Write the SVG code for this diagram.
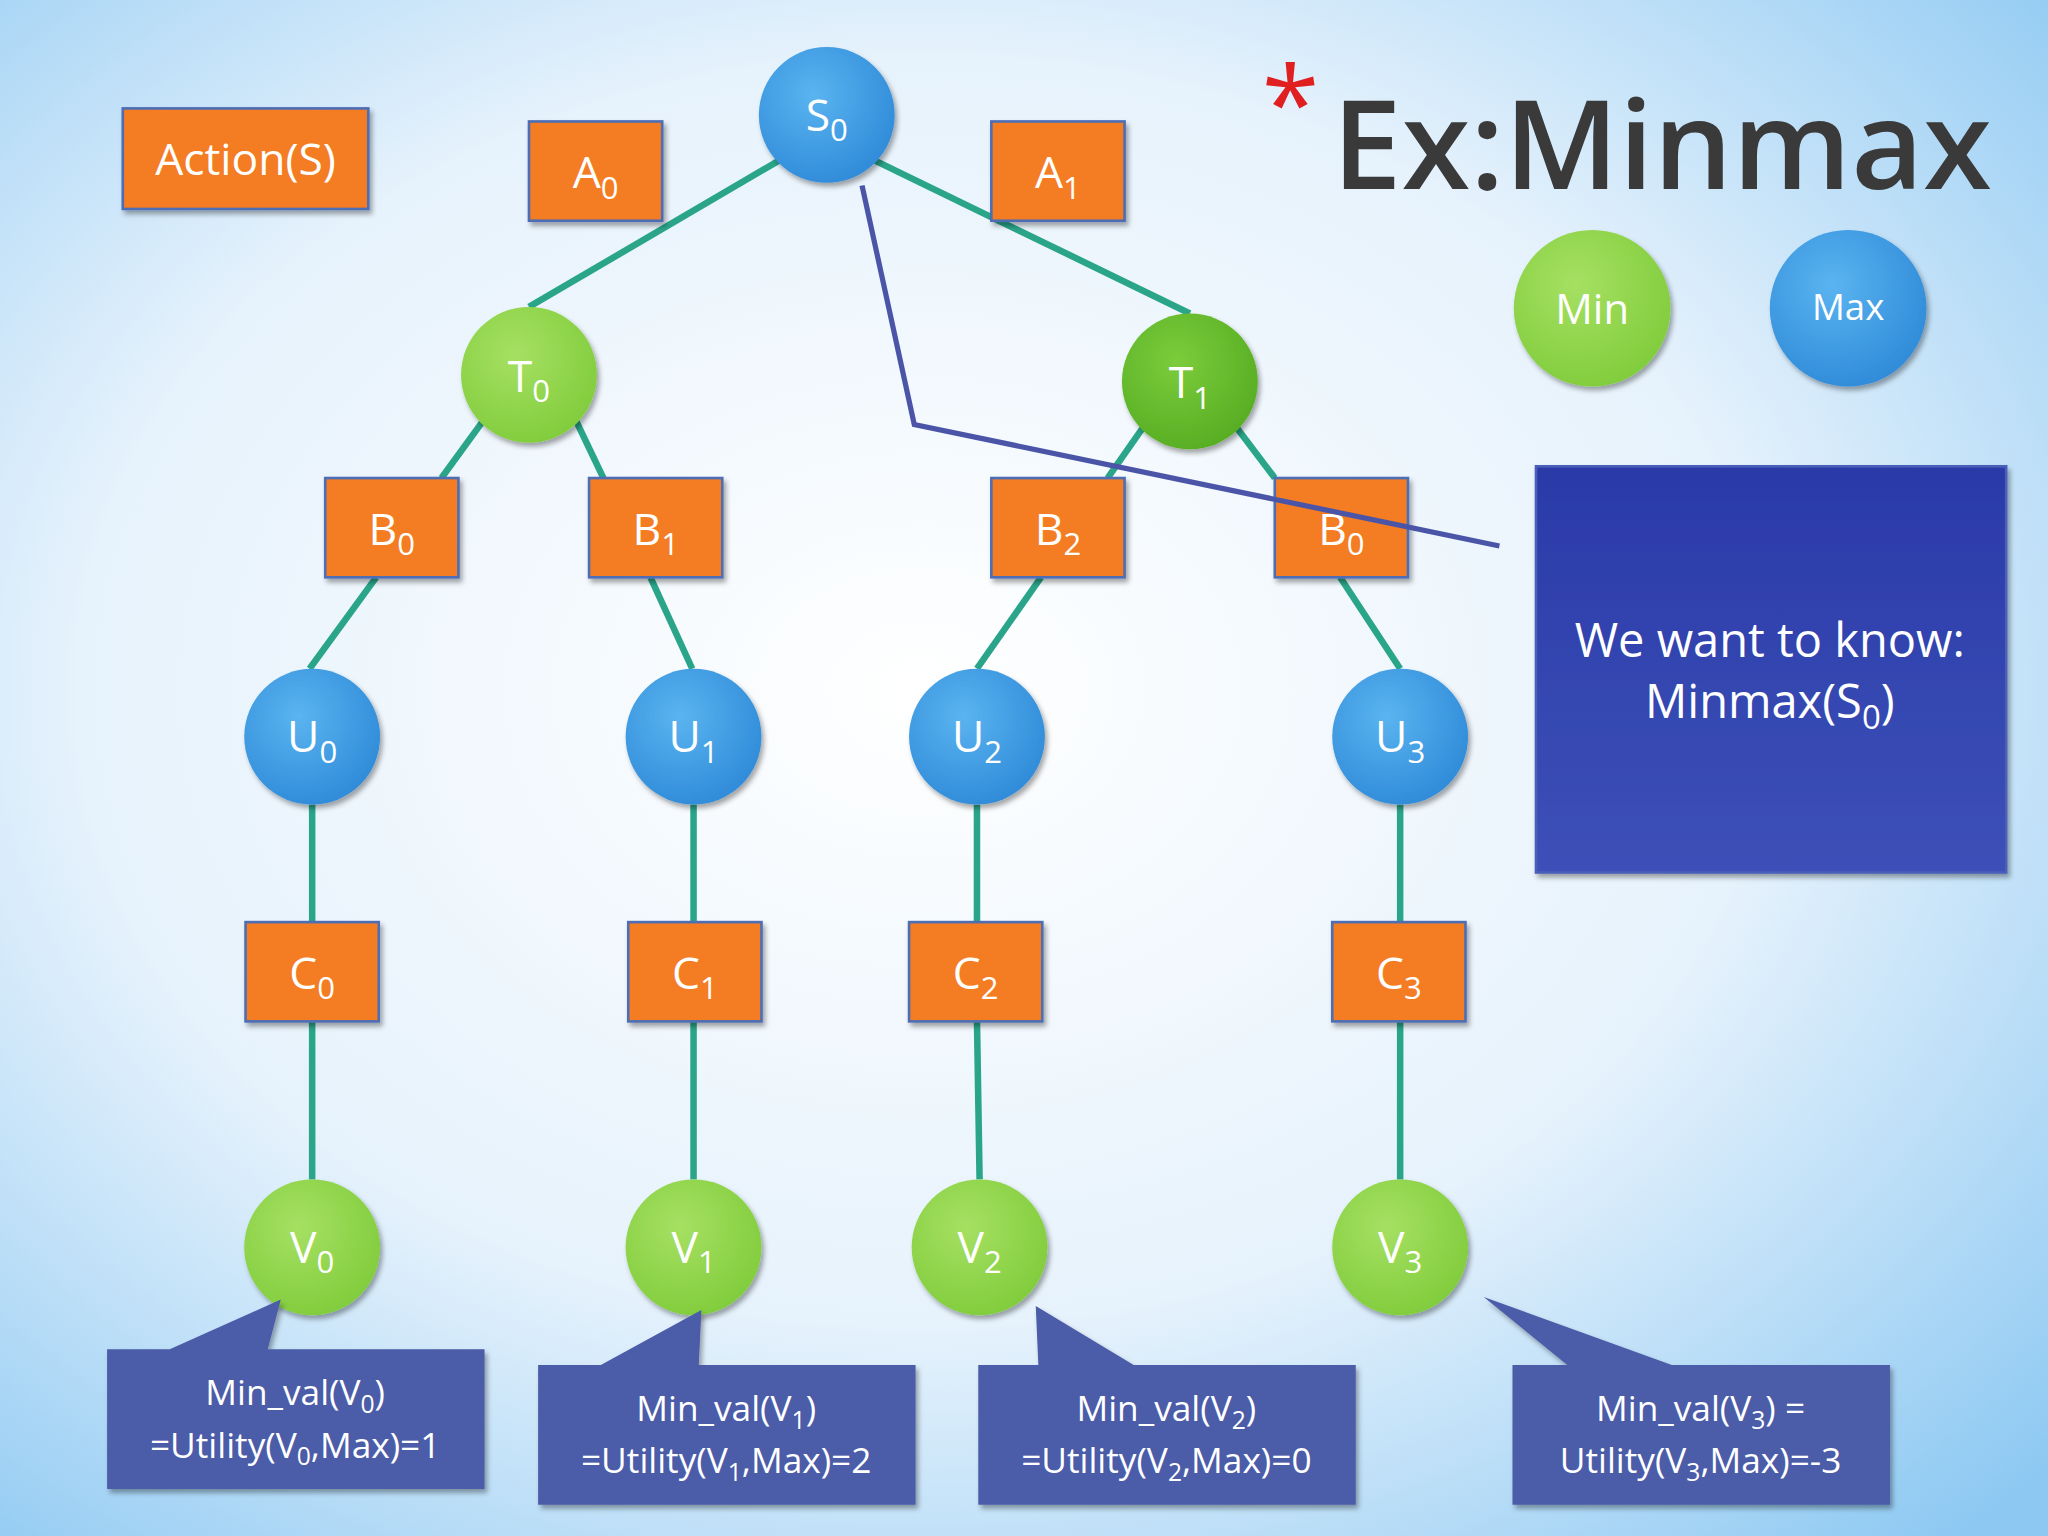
<svg xmlns="http://www.w3.org/2000/svg" width="2048" height="1536" viewBox="0 0 2048 1536">
<defs>
<radialGradient id="bg" cx="0.45" cy="0.45" r="0.75">
<stop offset="0" stop-color="#ffffff"/><stop offset="0.55" stop-color="#e6f2fc"/><stop offset="1" stop-color="#8cc8f2"/>
</radialGradient>
<radialGradient id="gb" cx="0.4" cy="0.35" r="0.7"><stop offset="0" stop-color="#5ab4f0"/><stop offset="1" stop-color="#2f8ad8"/></radialGradient>
<radialGradient id="gg" cx="0.4" cy="0.35" r="0.7"><stop offset="0" stop-color="#a6e062"/><stop offset="1" stop-color="#80cc3c"/></radialGradient>
<radialGradient id="gd" cx="0.4" cy="0.35" r="0.7"><stop offset="0" stop-color="#7ccc3c"/><stop offset="1" stop-color="#56ad22"/></radialGradient>
<linearGradient id="big" x1="0" y1="0" x2="0" y2="1"><stop offset="0" stop-color="#2a3aa8"/><stop offset="1" stop-color="#3d50b8"/></linearGradient>
<filter id="sh" x="-20%" y="-20%" width="140%" height="140%"><feDropShadow dx="2" dy="3" stdDeviation="2" flood-color="#000" flood-opacity="0.35"/></filter>
<style>
text{font-family:"Open Sans","DejaVu Sans",sans-serif;fill:#fff;text-anchor:middle}
.r{fill:#f47c20;stroke:#4d6db5;stroke-width:2;filter:url(#sh)}
.b{fill:url(#gb);filter:url(#sh)}
.g{fill:url(#gg);filter:url(#sh)}
.d{fill:url(#gd);filter:url(#sh)}
.lbl{font-size:34px}
.cl{fill:#4b5ba8;filter:url(#sh)}
.ct{font-size:27px}
.e{stroke:#2aa58a;stroke-width:5;fill:none}
.s{font-size:0.7em}
</style>
</defs>
<rect width="2048" height="1536" fill="url(#bg)"/>
<g transform="scale(1.30612)">
<g id="connectors">
<line class="e" x1="598" y1="122" x2="405" y2="235"/>
<line class="e" x1="668" y1="122" x2="911" y2="240"/>
<line class="e" x1="370" y1="322" x2="338" y2="366"/>
<line class="e" x1="441" y1="322" x2="462" y2="366"/>
<line class="e" x1="876" y1="326" x2="848" y2="366"/>
<line class="e" x1="945" y1="325" x2="976" y2="366"/>
<line class="e" x1="288" y1="442" x2="237" y2="512"/>
<line class="e" x1="498" y1="442" x2="530" y2="512"/>
<line class="e" x1="797" y1="442" x2="748" y2="512"/>
<line class="e" x1="1026" y1="442" x2="1072" y2="512"/>
<line class="e" x1="239" y1="616" x2="239" y2="706"/>
<line class="e" x1="531" y1="616" x2="531" y2="706"/>
<line class="e" x1="748" y1="616" x2="748" y2="706"/>
<line class="e" x1="1072" y1="616" x2="1072" y2="706"/>
<line class="e" x1="239" y1="782" x2="239" y2="903"/>
<line class="e" x1="531" y1="782" x2="531" y2="903"/>
<line class="e" x1="748" y1="782" x2="750" y2="903"/>
<line class="e" x1="1072" y1="782" x2="1072" y2="903"/>
</g>
<g id="action"><rect class="r" x="94" y="83" width="188" height="77"/><text class="lbl" x="188" y="134">Action(S)</text></g>
<g id="A0"><rect class="r" x="405" y="93" width="102" height="76"/><text class="lbl" x="456" y="144">A<tspan class="s" dy="8">0</tspan></text></g>
<g id="A1"><rect class="r" x="759" y="93" width="102" height="76"/><text class="lbl" x="810" y="144">A<tspan class="s" dy="8">1</tspan></text></g>
<g id="S0"><circle class="b" cx="633" cy="88" r="52"/><text class="lbl" x="633" y="100">S<tspan class="s" dy="8">0</tspan></text></g>
<g id="T0"><circle class="g" cx="405" cy="287" r="52"/><text class="lbl" x="405" y="300">T<tspan class="s" dy="8">0</tspan></text></g>
<g id="T1"><circle class="d" cx="911" cy="292" r="52"/><text class="lbl" x="911" y="305">T<tspan class="s" dy="8">1</tspan></text></g>
<g id="B0"><rect class="r" x="249" y="366" width="102" height="76"/><text class="lbl" x="300" y="417">B<tspan class="s" dy="8">0</tspan></text></g>
<g id="B1"><rect class="r" x="451" y="366" width="102" height="76"/><text class="lbl" x="502" y="417">B<tspan class="s" dy="8">1</tspan></text></g>
<g id="B2"><rect class="r" x="759" y="366" width="102" height="76"/><text class="lbl" x="810" y="417">B<tspan class="s" dy="8">2</tspan></text></g>
<g id="B0b"><rect class="r" x="976" y="366" width="102" height="76"/><text class="lbl" x="1027" y="417">B<tspan class="s" dy="8">0</tspan></text></g>
<g id="U0"><circle class="b" cx="239" cy="564" r="52"/><text class="lbl" x="239" y="576">U<tspan class="s" dy="8">0</tspan></text></g>
<g id="U1"><circle class="b" cx="531" cy="564" r="52"/><text class="lbl" x="531" y="576">U<tspan class="s" dy="8">1</tspan></text></g>
<g id="U2"><circle class="b" cx="748" cy="564" r="52"/><text class="lbl" x="748" y="576">U<tspan class="s" dy="8">2</tspan></text></g>
<g id="U3"><circle class="b" cx="1072" cy="564" r="52"/><text class="lbl" x="1072" y="576">U<tspan class="s" dy="8">3</tspan></text></g>
<g id="C0"><rect class="r" x="188" y="706" width="102" height="76"/><text class="lbl" x="239" y="757">C<tspan class="s" dy="8">0</tspan></text></g>
<g id="C1"><rect class="r" x="481" y="706" width="102" height="76"/><text class="lbl" x="532" y="757">C<tspan class="s" dy="8">1</tspan></text></g>
<g id="C2"><rect class="r" x="696" y="706" width="102" height="76"/><text class="lbl" x="747" y="757">C<tspan class="s" dy="8">2</tspan></text></g>
<g id="C3"><rect class="r" x="1020" y="706" width="102" height="76"/><text class="lbl" x="1071" y="757">C<tspan class="s" dy="8">3</tspan></text></g>
<g id="V0"><circle class="g" cx="239" cy="955" r="52"/><text class="lbl" x="239" y="967">V<tspan class="s" dy="8">0</tspan></text></g>
<g id="V1"><circle class="g" cx="531" cy="955" r="52"/><text class="lbl" x="531" y="967">V<tspan class="s" dy="8">1</tspan></text></g>
<g id="V2"><circle class="g" cx="750" cy="955" r="52"/><text class="lbl" x="750" y="967">V<tspan class="s" dy="8">2</tspan></text></g>
<g id="V3"><circle class="g" cx="1072" cy="955" r="52"/><text class="lbl" x="1072" y="967">V<tspan class="s" dy="8">3</tspan></text></g>
<g id="call0"><path class="cl" d="M82,1033 H130 L215,995 L205,1033 H371 V1140 H82 Z"/>
<text class="ct" x="226" y="1076">Min_val(V<tspan class="s" dy="6">0</tspan><tspan dy="-6">)</tspan></text>
<text class="ct" x="226" y="1116">=Utility(V<tspan class="s" dy="6">0</tspan><tspan dy="-6">,Max)=1</tspan></text></g>
<g id="call1"><path class="cl" d="M412,1045 H460 L537,1003 L535,1045 H701 V1152 H412 Z"/>
<text class="ct" x="556" y="1088">Min_val(V<tspan class="s" dy="6">1</tspan><tspan dy="-6">)</tspan></text>
<text class="ct" x="556" y="1128">=Utility(V<tspan class="s" dy="6">1</tspan><tspan dy="-6">,Max)=2</tspan></text></g>
<g id="call2"><path class="cl" d="M749,1045 H795 L793,1000 L868,1045 H1038 V1152 H749 Z"/>
<text class="ct" x="893" y="1088">Min_val(V<tspan class="s" dy="6">2</tspan><tspan dy="-6">)</tspan></text>
<text class="ct" x="893" y="1128">=Utility(V<tspan class="s" dy="6">2</tspan><tspan dy="-6">,Max)=0</tspan></text></g>
<g id="call3"><path class="cl" d="M1158,1045 H1200 L1136,993 L1280,1045 H1447 V1152 H1158 Z"/>
<text class="ct" x="1302" y="1088">Min_val(V<tspan class="s" dy="6">3</tspan><tspan dy="-6">) =</tspan></text>
<text class="ct" x="1302" y="1128">Utility(V<tspan class="s" dy="6">3</tspan><tspan dy="-6">,Max)=-3</tspan></text></g>
<g id="note"><polyline points="660,142 700,325 1148,418" fill="none" stroke="#4a55a8" stroke-width="4"/>
<rect x="1176" y="357" width="360" height="311" fill="url(#big)" stroke="#4a5fb8" stroke-width="2" filter="url(#sh)"/>
<text x="1355" y="503" font-size="36">We want to know:</text>
<text x="1355" y="550" font-size="36">Minmax(S<tspan class="s" dy="8">0</tspan><tspan dy="-8">)</tspan></text></g>
<g id="title"><text x="988" y="108" font-size="80" style="fill:#e02020">*</text>
<text x="1020" y="145" font-size="94" font-weight="600" textLength="505" lengthAdjust="spacingAndGlyphs" style="fill:#3a3a3a;text-anchor:start">Ex:Minmax</text></g>
<g id="legend-min"><circle class="g" cx="1219" cy="236" r="60"/><text x="1219" y="248" font-size="32">Min</text></g>
<g id="legend-max"><circle class="b" cx="1415" cy="236" r="60"/><text x="1415" y="245" font-size="28">Max</text></g>
</g>
</svg>
